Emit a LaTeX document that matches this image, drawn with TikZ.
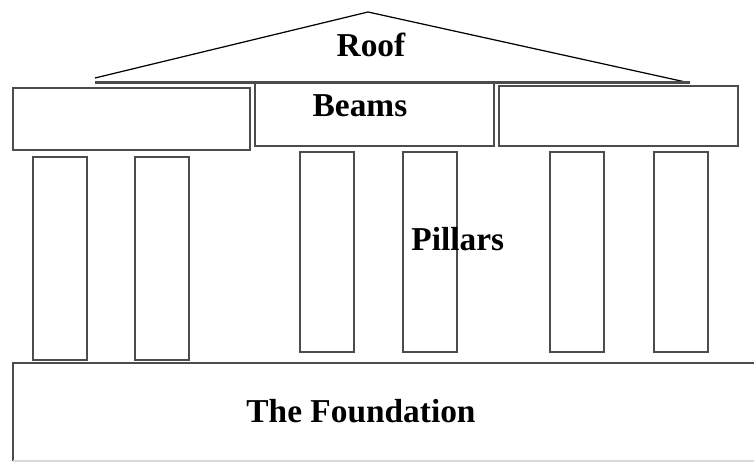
\documentclass[tikz,border=0pt]{standalone}
\usepackage{fontspec}
\setmainfont{Liberation Serif}
\tikzset{
    part/.style={draw=black!70, line width=1.1pt},
    tag/.style={font=\fontsize{19}{22}\selectfont\bfseries, inner sep=0pt}
}
\begin{document}
\begin{tikzpicture}[x=0.02cm, y=-0.02cm]
    \useasboundingbox (0,0) rectangle (754,462);

    % tetto
    \draw[black, line width=0.7pt] (95,78) -- (368,12) -- (690,83);
    \draw[black!70, line width=1.3pt] (95,82.5) -- (690,82.5);
    \node[tag] (roof) at (371,45) {Roof};

    % travi
    \draw[part] (13,88) rectangle (250,150);
    \draw[part] (255,83) rectangle (494,146);
    \draw[part] (499,86) rectangle (738,146);
    \node[tag] (beams) at (360,106) {Beams};

    % pilastri
    \foreach \xa/\ya/\yb in {33/157/360, 135/157/360, 300/152/352,
                             403/152/352, 550/152/352, 654/152/352}
        \draw[part] (\xa,\ya) rectangle ({\xa+54},\yb);
    \node[tag, anchor=west] (pillars) at (411,239) {Pillars};

    % fondazione
    \draw[part] (754,363) -- (13,363) -- (13,461);
    \draw[black!15, line width=0.6pt] (13,461) -- (754,461);
    \node[tag] (found) at (361,411) {The Foundation};
\end{tikzpicture}
\end{document}
